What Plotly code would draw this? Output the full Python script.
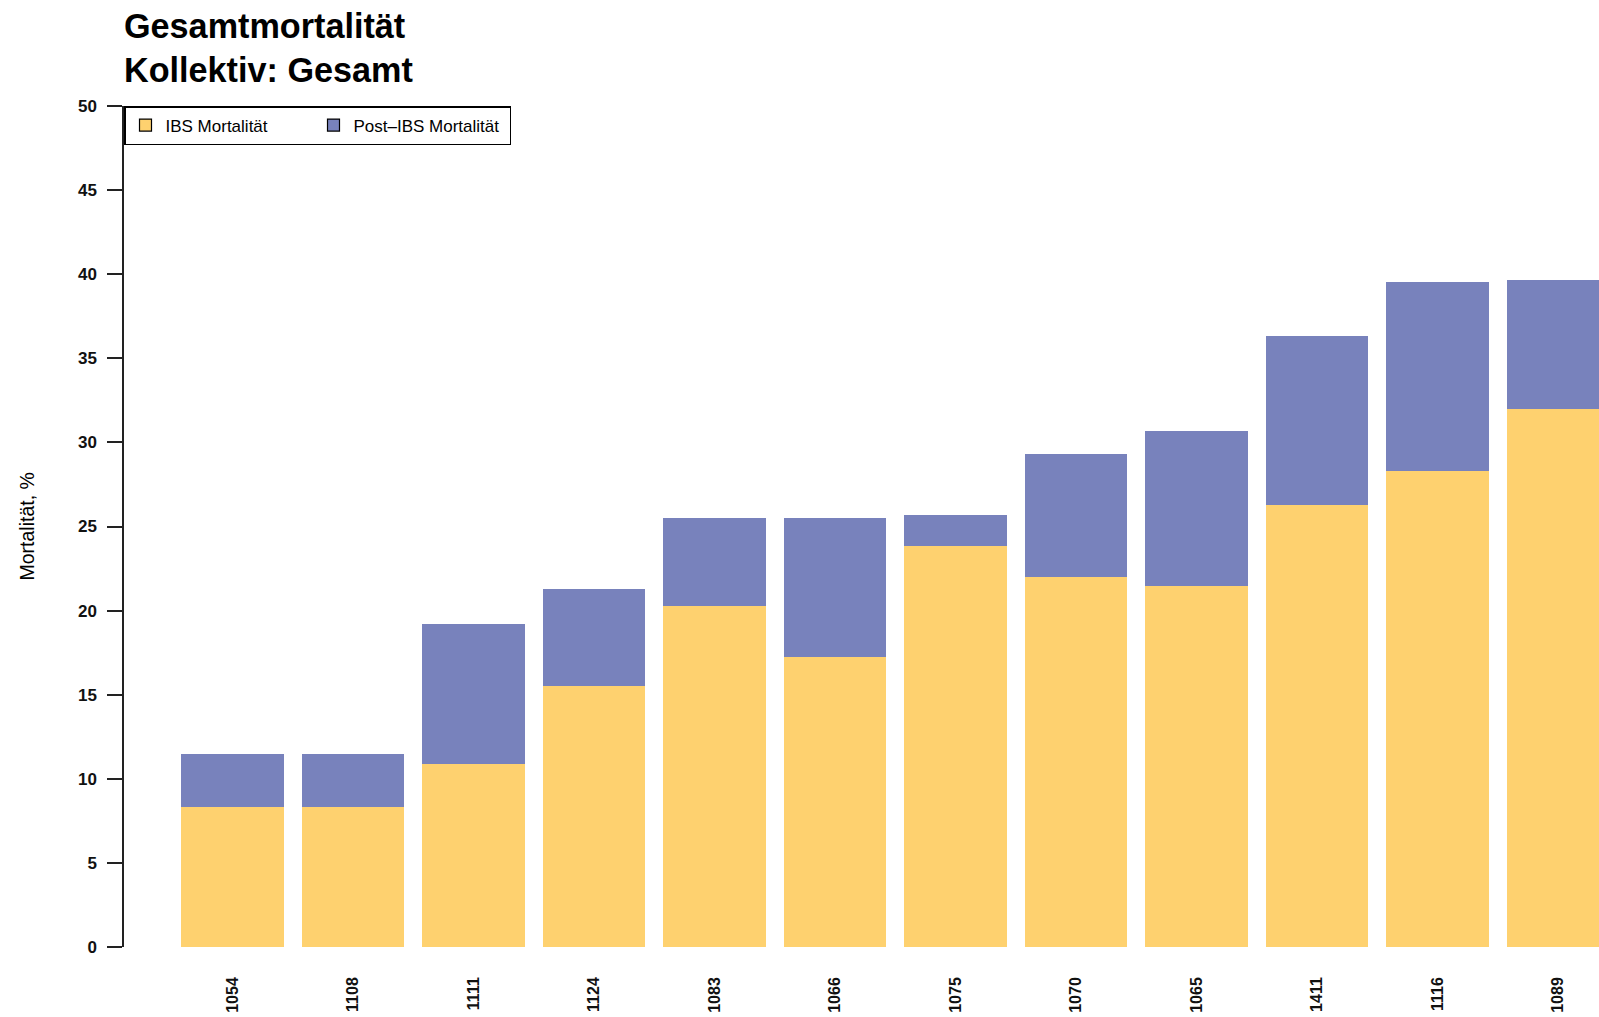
import plotly.graph_objects as go

# ---- data ----
categories = ["1054", "1108", "1111", "1124", "1083", "1066",
              "1075", "1070", "1065", "1411", "1116", "1089"]
ibs_mortality = [8.3, 8.3, 10.9, 15.5, 20.3, 17.25, 23.85, 22.0, 21.45, 26.3, 28.3, 32.0]
post_ibs_mortality = [3.2, 3.2, 8.3, 5.8, 5.2, 8.25, 1.85, 7.3, 9.25, 10.0, 11.25, 7.65]
y_ticks = [0, 5, 10, 15, 20, 25, 30, 35, 40, 45, 50]

series_names = ["IBS Mortalität", "Post\u2013IBS Mortalität"]
YELLOW = "#FED16F"
BLUE = "#7882BC"
FONT = "Liberation Sans, Arial, Helvetica, sans-serif"

W, H = 1599, 1017
M_L, M_R, M_T, M_B = 124, 0, 106, 70
BAR_W = 0.85

fig = go.Figure()

# real bars (no legend)
fig.add_trace(go.Bar(x=categories, y=ibs_mortality, name=series_names[0],
                     marker=dict(color=YELLOW, line=dict(width=0)),
                     width=BAR_W, showlegend=False))
fig.add_trace(go.Bar(x=categories, y=post_ibs_mortality, name=series_names[1],
                     marker=dict(color=BLUE, line=dict(width=0)),
                     width=BAR_W, showlegend=False))

# legend entries with black-framed keys
for nm, col, lw in zip(series_names, [YELLOW, BLUE], [143, 151]):
    fig.add_trace(go.Bar(x=[None], y=[None], name=nm,
                         marker=dict(color=col, line=dict(color="black", width=1.2)),
                         legendwidth=lw, showlegend=True))

fig.update_layout(
    width=W, height=H,
    margin=dict(l=M_L, r=M_R, t=M_T, b=M_B, pad=0),
    barmode="stack",
    plot_bgcolor="white", paper_bgcolor="white",
    font=dict(family=FONT, color="black"),
    title=dict(text="Gesamtmortalität<br>Kollektiv: Gesamt",
               font=dict(family=FONT, size=34.2, color="black", weight="bold"),
               xref="paper", x=0.0, xanchor="left",
               yref="container", y=1 - 38 / H, yanchor="top", pad=dict(l=0, t=0)),
    legend=dict(orientation="h", x=0, y=1, xanchor="left", yanchor="top",
                xref="paper", yref="paper",
                bordercolor="black", borderwidth=1.5, bgcolor="white",
                font=dict(family=FONT, size=17, color="black"),
                entrywidthmode="pixels",
                traceorder="normal"),
    showlegend=True,
)

fig.update_xaxes(type="category", categoryorder="array", categoryarray=categories,
                 range=[-0.902, 11.339], showline=False, showgrid=False, zeroline=False,
                 ticks="", tickangle=-90, ticklabelstandoff=26,
                 tickfont=dict(family=FONT, size=16, color="#111", weight="bold"))

fig.update_yaxes(range=[0, 50], tickvals=y_ticks, ticktext=[str(v) for v in y_ticks],
                 showline=True, linecolor="#222", linewidth=1.5,
                 ticks="outside", ticklen=15, tickwidth=1.5, tickcolor="#222",
                 ticklabelstandoff=7, showgrid=False, zeroline=False,
                 tickfont=dict(family=FONT, size=17, color="#111", weight="bold"))

fig.add_annotation(text="Mortalität, %", textangle=-90, showarrow=False,
                   xref="paper", yref="paper",
                   x=(26 - M_L) / (W - M_L - M_R), y=0.5,
                   xanchor="center", yanchor="middle",
                   font=dict(family=FONT, size=19.5, color="black"))

fig.write_html("out.html", config={"displayModeBar": False},
               post_script="document.body.style.margin='0';document.body.style.overflow='hidden';")
